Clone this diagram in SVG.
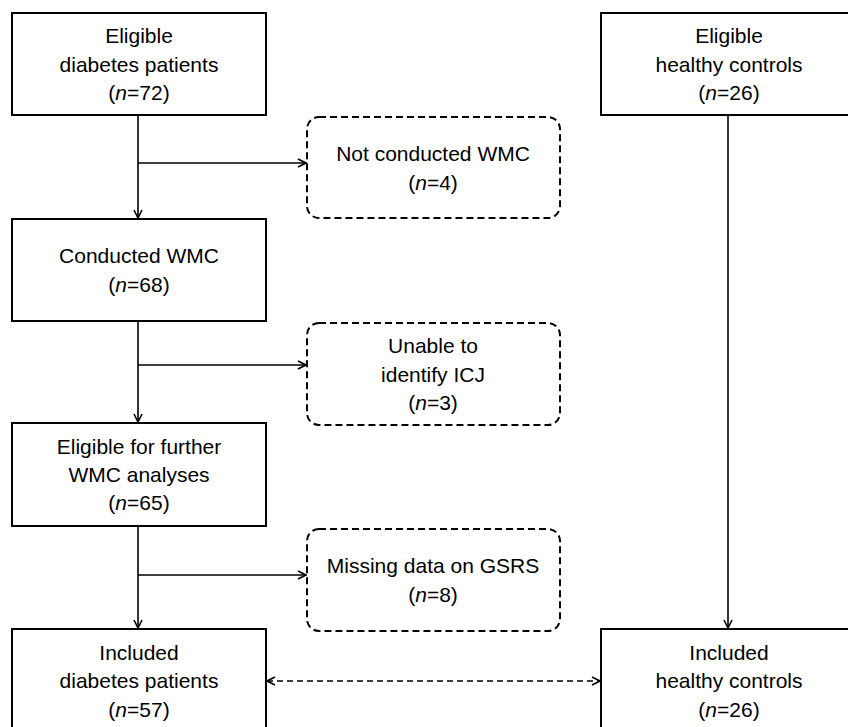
<svg xmlns="http://www.w3.org/2000/svg" width="848" height="727" viewBox="0 0 848 727">
<style>
.box{fill:#fff;stroke:#000;stroke-width:2}
.dbox{fill:#fff;stroke:#000;stroke-width:2;stroke-dasharray:7 4}
.t{font-family:"Liberation Sans",Arial,sans-serif;font-size:21px;fill:#000;text-anchor:middle}
.i{font-style:italic}
.c{fill:none;stroke:#000;stroke-width:1.6}
.cd{fill:none;stroke:#000;stroke-width:1.6;stroke-dasharray:6 4}
</style>
<defs>
<marker id="ah" viewBox="0 0 10 10" refX="9" refY="5" markerWidth="10" markerHeight="10" markerUnits="userSpaceOnUse" orient="auto-start-reverse">
<path d="M1,1 L9,5 L1,9" fill="none" stroke="#000" stroke-width="1.6"/>
</marker>
</defs>
<rect width="848" height="727" fill="#fff"/>
<g id="connectors">
<path class="c" d="M138,115 V218" marker-end="url(#ah)"/>
<path class="c" d="M138,163 H306" marker-end="url(#ah)"/>
<path class="c" d="M138,321 V422" marker-end="url(#ah)"/>
<path class="c" d="M138,365 H306" marker-end="url(#ah)"/>
<path class="c" d="M138,526 V628" marker-end="url(#ah)"/>
<path class="c" d="M138,575 H306" marker-end="url(#ah)"/>
<path class="c" d="M728,115 V628" marker-end="url(#ah)"/>
<path class="cd" d="M267,681 H600" marker-start="url(#ah)" marker-end="url(#ah)"/>
</g>
<g id="eligible-diabetes">
<rect class="box" x="12" y="13" width="254" height="102"/>
<text class="t" x="139" y="43">Eligible</text>
<text class="t" x="139" y="72">diabetes patients</text>
<text class="t" x="139" y="100">(<tspan class="i">n</tspan>=72)</text>
</g>
<g id="eligible-controls">
<rect class="box" x="601" y="13" width="256" height="102"/>
<text class="t" x="729" y="43">Eligible</text>
<text class="t" x="729" y="72">healthy controls</text>
<text class="t" x="729" y="100">(<tspan class="i">n</tspan>=26)</text>
</g>
<g id="not-conducted">
<rect class="dbox" x="307" y="117" width="253" height="101" rx="12"/>
<text class="t" x="433" y="161">Not conducted WMC</text>
<text class="t" x="433" y="190">(<tspan class="i">n</tspan>=4)</text>
</g>
<g id="conducted">
<rect class="box" x="12" y="219" width="254" height="102"/>
<text class="t" x="139" y="263">Conducted WMC</text>
<text class="t" x="139" y="292">(<tspan class="i">n</tspan>=68)</text>
</g>
<g id="unable-icj">
<rect class="dbox" x="307" y="323" width="253" height="102" rx="12"/>
<text class="t" x="433" y="353">Unable to</text>
<text class="t" x="433" y="382">identify ICJ</text>
<text class="t" x="433" y="410">(<tspan class="i">n</tspan>=3)</text>
</g>
<g id="eligible-further">
<rect class="box" x="12" y="423" width="254" height="103"/>
<text class="t" x="139" y="454">Eligible for further</text>
<text class="t" x="139" y="482">WMC analyses</text>
<text class="t" x="139" y="510">(<tspan class="i">n</tspan>=65)</text>
</g>
<g id="missing-gsrs">
<rect class="dbox" x="307" y="529" width="253" height="102" rx="12"/>
<text class="t" x="433" y="573">Missing data on GSRS</text>
<text class="t" x="433" y="602">(<tspan class="i">n</tspan>=8)</text>
</g>
<g id="included-diabetes">
<rect class="box" x="12" y="629" width="254" height="110"/>
<text class="t" x="139" y="660">Included</text>
<text class="t" x="139" y="688">diabetes patients</text>
<text class="t" x="139" y="717">(<tspan class="i">n</tspan>=57)</text>
</g>
<g id="included-controls">
<rect class="box" x="601" y="629" width="256" height="110"/>
<text class="t" x="729" y="660">Included</text>
<text class="t" x="729" y="688">healthy controls</text>
<text class="t" x="729" y="717">(<tspan class="i">n</tspan>=26)</text>
</g>
</svg>
